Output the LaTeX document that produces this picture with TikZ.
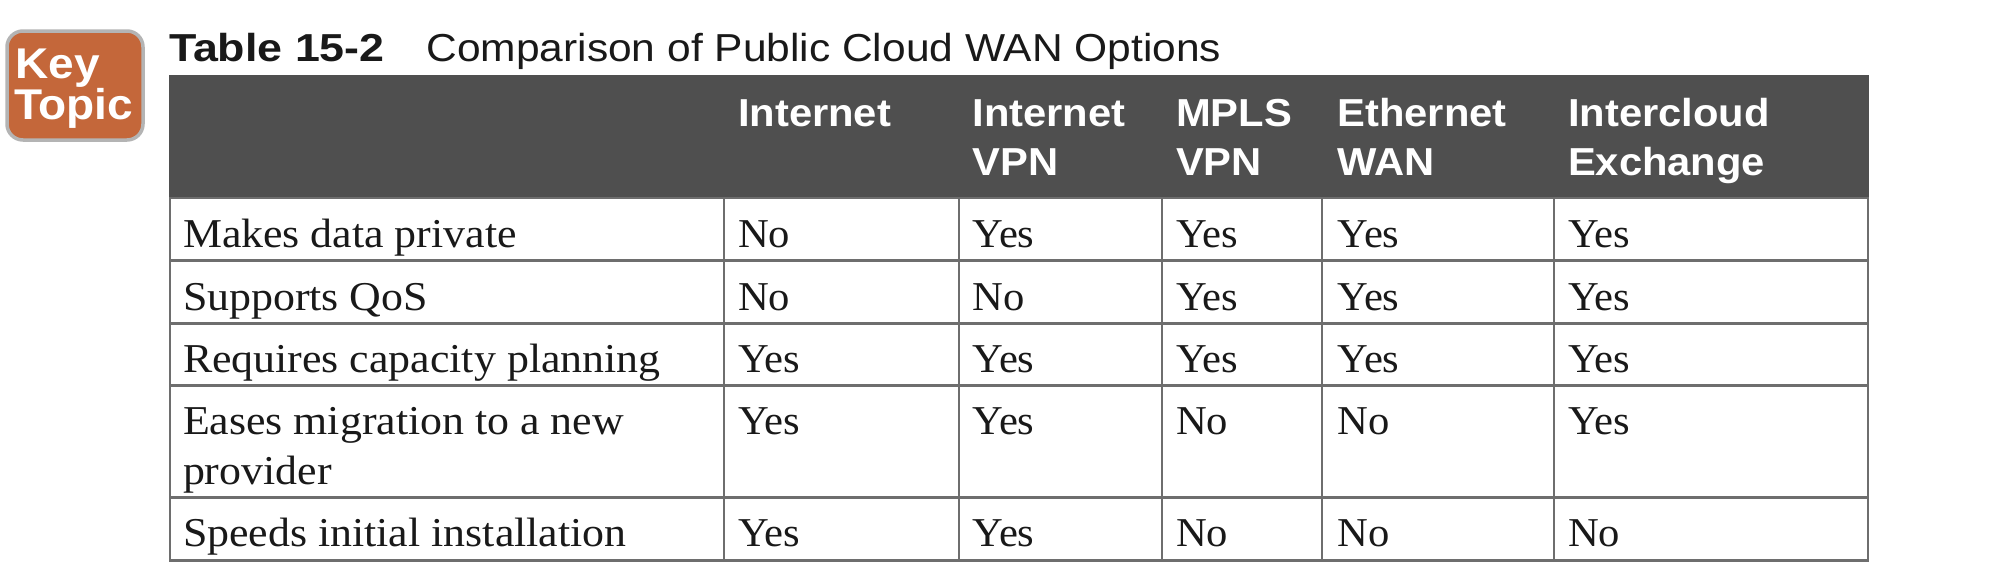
\documentclass[tikz,border=0pt]{standalone}
\usepackage{fontspec}
\setmainfont{Liberation Serif}
\newfontfamily\hd{Liberation Sans}
\definecolor{hdr}{HTML}{4F4F4F}
\definecolor{rule}{HTML}{6E6E6E}
\definecolor{badge}{HTML}{C4673A}
\definecolor{badgeedge}{HTML}{B4B4B4}
\tikzset{
  base/.style={inner sep=0pt,outer sep=0pt,anchor=base west},
  cellt/.style={base,font=\fontsize{41}{41}\selectfont,text=black!90,xscale=1.04},
  rowt/.style={base,font=\fontsize{41}{41}\selectfont,text=black!90,xscale=1.07},
  headt/.style={base,font=\hd\bfseries\fontsize{39}{39}\selectfont,text=white,xscale=1.07},
  titleb/.style={base,font=\hd\bfseries\fontsize{39}{39}\selectfont,text=black!90,xscale=1.148},
  titlen/.style={base,font=\hd\fontsize{39}{39}\selectfont,text=black!90,xscale=1.09},
  keyt/.style={base,font=\hd\bfseries\fontsize{43}{43}\selectfont,text=white,xscale=1.07},
  hline/.style={draw=rule,line width=3pt},
  vline/.style={draw=rule,line width=2pt}
}
\begin{document}
\begin{tikzpicture}[x=1pt,y=-1pt]
\useasboundingbox[fill=white] (0,0) rectangle (2012,570);
% badge
\path[fill=badge,draw=badgeedge,line width=3.5pt,rounded corners=16pt] (7,31) rectangle (143,140);
\node[keyt] (key) at (15.5,78) {Key};
\node[keyt] (topic) at (14,119) {Topic};
% title
\node[titleb] (tno) at (169,61.3) {Table 15-2};
\node[titlen] (ttl) at (426.5,61.3) {Comparison of Public Cloud WAN Options};
% header band
\path[fill=hdr] (169,75) rectangle (1869,198);
% grid
\foreach \y in {260.7,323.3,385.7,497.7,560}
  \path[hline] (169,\y) -- (1869,\y);
\path[draw=rule,line width=2pt] (169,198) -- (1869,198);
\foreach \x in {170,724,958.5,1161.5,1322,1554,1868}
  \path[vline] (\x,198) -- (\x,561);
% headers
\node[headt] (h1) at (738,126.7) {Internet};
\node[headt] (h2a) at (972.5,126.7) {Internet};
\node[headt] (h2b) at (972.5,175.7) {VPN};
\node[headt] (h3a) at (1176,126.7) {MPLS};
\node[headt] (h3b) at (1176,175.7) {VPN};
\node[headt] (h4a) at (1337.5,126.7) {Ethernet};
\node[headt] (h4b) at (1337.5,175.7) {WAN};
\node[headt] (h5a) at (1568,126.7) {Intercloud};
\node[headt] (h5b) at (1568,175.7) {Exchange};
% row labels
\node[rowt] (r1) at (183,247.3) {Makes data private};
\node[rowt] (r2) at (183,310.2) {Supports QoS};
\node[rowt] (r3) at (183,372.7) {Requires capacity planning};
\node[rowt] (r4a) at (183,434.3) {Eases migration to a new};
\node[rowt] (r4b) at (183,484) {provider};
\node[rowt] (r5) at (183,546.7) {Speeds initial installation};
% cells
\foreach \yy/\a/\b/\c/\d/\e in {247.3/No/Yes/Yes/Yes/Yes,310.2/No/No/Yes/Yes/Yes,372.7/Yes/Yes/Yes/Yes/Yes,434.3/Yes/Yes/No/No/Yes,546.7/Yes/Yes/No/No/No}{
  \node[cellt] at (738,\yy) {\a};
  \node[cellt] at (972.5,\yy) {\b};
  \node[cellt] at (1176,\yy) {\c};
  \node[cellt] at (1337.5,\yy) {\d};
  \node[cellt] at (1568,\yy) {\e};
}
\end{tikzpicture}
\end{document}
